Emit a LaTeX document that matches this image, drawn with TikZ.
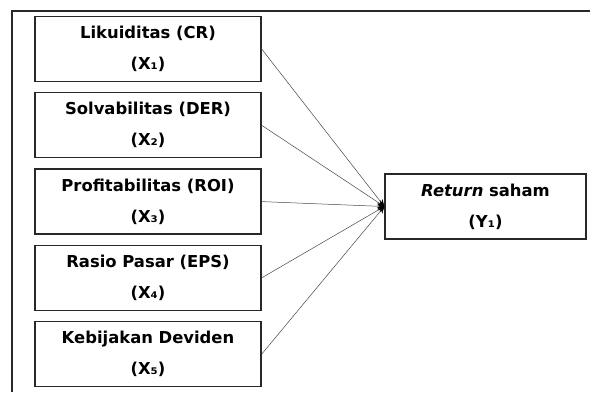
\documentclass[tikz,border=0pt]{standalone}
\usepackage{fontspec}
\usepackage{tikz}
\usetikzlibrary{arrows.meta, positioning}
\setmainfont{DejaVu Sans}
\definecolor{frameGray}{RGB}{40, 40, 40}
\definecolor{lineGray}{RGB}{70, 70, 70}

\begin{document}
\begin{tikzpicture}[
    node distance=10pt,
    varbox/.style={
        rectangle,
        draw=frameGray,
        line width=1.3pt,
        minimum width=226pt,
        minimum height=65pt,
        align=center,
        font=\fontsize{16.4}{31}\selectfont\bfseries
    },
    arrow/.style={
        -{Stealth[length=7pt, width=6pt, color=black]},
        line width=0.5pt,
        color=lineGray
    }
]
\useasboundingbox (0,0) rectangle (590pt,392pt);

% Outer frame (top and left edges only)
\draw[frameGray, line width=1.4pt] (12pt,0pt) -- (12pt,381pt) -- (590pt,381pt);

% Independent variables
\node[varbox] (x1) at (148pt,343pt) {Likuiditas (CR)\\(X₁)};
\node[varbox, below=of x1] (x2) {Solvabilitas (DER)\\(X₂)};
\node[varbox, below=of x2] (x3) {Profitabilitas (ROI)\\(X₃)};
\node[varbox, below=of x3] (x4) {Rasio Pasar (EPS)\\(X₄)};
\node[varbox, below=of x4] (x5) {Kebijakan Deviden\\(X₅)};

% Dependent variable
\node[varbox, minimum width=201pt] (y1) at (485.5pt,185.5pt) {\textit{Return} saham\\(Y₁)};

% Arrows
\draw[arrow] (x1.east) -- (y1.west);
\draw[arrow] (x2.east) -- (y1.west);
\draw[arrow] (x3.east) -- (y1.west);
\draw[arrow] (x4.east) -- (y1.west);
\draw[arrow] (x5.east) -- (y1.west);

\end{tikzpicture}
\end{document}
